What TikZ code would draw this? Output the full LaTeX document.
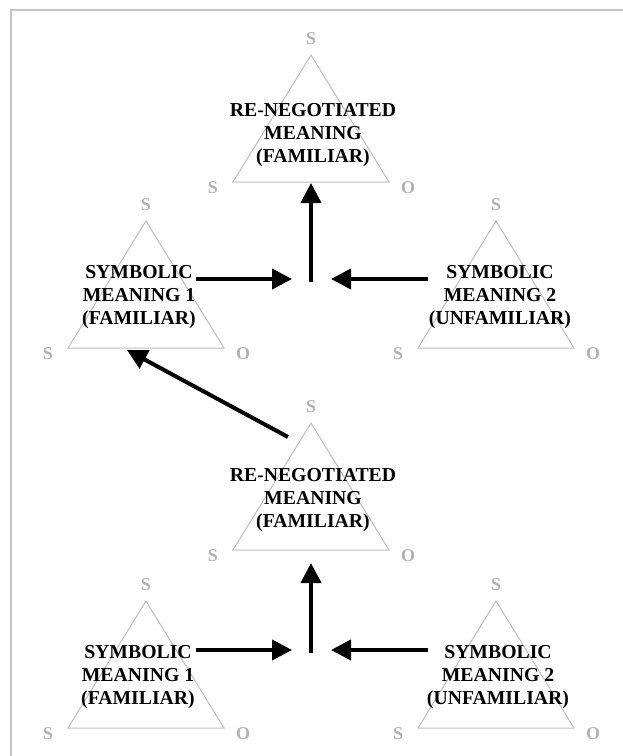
\documentclass[tikz,border=0pt]{standalone}
\usepackage{fontspec}
\setmainfont{Liberation Serif}
\usetikzlibrary{arrows.meta}
\definecolor{edgegray}{RGB}{190,190,190}
\definecolor{framegray}{RGB}{196,196,196}
\definecolor{vertgray}{RGB}{178,178,178}
\tikzset{
  tri/.style={draw=edgegray, line width=0.75pt},
  vert/.style={text=vertgray, font=\fontsize{13.5}{15}\selectfont\bfseries, inner sep=0pt},
  caption/.style={align=center, inner sep=0pt, font=\fontsize{14.8}{17}\selectfont\bfseries},
  flow/.style={line width=3pt, -{Triangle[length=15pt,width=15pt]}}
}
% a triangle with apex (x,y) and base at y+127, half width 78, plus its corner letters
\newcommand{\semtri}[3]{%
  \coordinate (#3-apex) at (#1,#2);
  \coordinate (#3-left) at (#1-78,#2+127);
  \coordinate (#3-right) at (#1+78,#2+127);
  \draw[tri] (#3-apex) -- (#3-left) -- (#3-right) -- cycle;
  \node[vert] (#3-s) at (#1,#2-16) {S};
  \node[vert] (#3-sl) at (#1-98,#2+133) {S};
  \node[vert] (#3-o) at (#1+97,#2+133) {O};
}
\begin{document}
\begin{tikzpicture}[x=0.75pt,y=-0.75pt]
\useasboundingbox (0,0) rectangle (623,756);
% frame along the top and left edges
\draw[framegray, line width=1.5pt] (11,756) -- (11,10) -- (623,10);

% upper tier
\semtri{311}{55}{ra}
\semtri{146}{221}{sa}
\semtri{496}{221}{ua}
\node[caption] (ra-text) at (313,135) {RE-NEGOTIATED\\MEANING\\(FAMILIAR)};
\node[caption] (sa-text) at (139,297) {SYMBOLIC\\MEANING 1\\(FAMILIAR)};
\node[caption] (ua-text) at (500,297) {SYMBOLIC\\MEANING 2\\(UNFAMILIAR)};

% lower tier
\semtri{311}{423}{rb}
\semtri{146}{601}{sb}
\semtri{496}{601}{ub}
\node[caption] (rb-text) at (313,500) {RE-NEGOTIATED\\MEANING\\(FAMILIAR)};
\node[caption] (sb-text) at (138,677) {SYMBOLIC\\MEANING 1\\(FAMILIAR)};
\node[caption] (ub-text) at (498,677) {SYMBOLIC\\MEANING 2\\(UNFAMILIAR)};

% connector end points
\coordinate (a-from-l) at (196,279);
\coordinate (a-to-l) at (292,279);
\coordinate (a-from-r) at (428,279);
\coordinate (a-to-r) at (331,279);
\coordinate (a-up-from) at (311,282);
\coordinate (a-up-to) at (311,183);
\coordinate (b-from-l) at (196,650);
\coordinate (b-to-l) at (292,650);
\coordinate (b-from-r) at (428,650);
\coordinate (b-to-r) at (331,650);
\coordinate (b-up-from) at (311,653);
\coordinate (b-up-to) at (311,563);
\coordinate (diag-from) at (288,437);
\coordinate (diag-to) at (127,350);

% arrows
\draw[flow] (a-from-l) -- (a-to-l);
\draw[flow] (a-from-r) -- (a-to-r);
\draw[flow] (a-up-from) -- (a-up-to);
\draw[flow] (b-from-l) -- (b-to-l);
\draw[flow] (b-from-r) -- (b-to-r);
\draw[flow] (b-up-from) -- (b-up-to);
\draw[flow] (diag-from) -- (diag-to);
\end{tikzpicture}
\end{document}
